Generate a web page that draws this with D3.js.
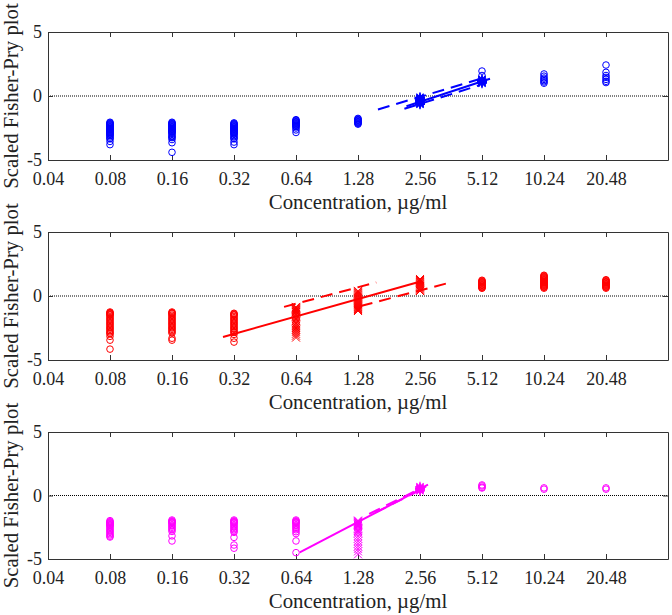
<!DOCTYPE html>
<html><head><meta charset="utf-8">
<script src="https://cdn.jsdelivr.net/npm/d3@7"></script>
<style>body{margin:0;background:#fff}svg{display:block}svg text{font-family:'Liberation Serif','Times New Roman',serif}</style>
</head><body>
<svg id="chart" width="672" height="615"></svg>
<script>
// ---------- data ----------
const concentrations = [0.04,0.08,0.16,0.32,0.64,1.28,2.56,5.12,10.24,20.48];
const tickLabels = ["0.04","0.08","0.16","0.32","0.64","1.28","2.56","5.12","10.24","20.48"];
const yTicks = [-5,0,5];

// Panel 1 (blue)
const blueCircles = [
  [0.08,[-2.05,-2.1,-2.15,-2.2,-2.25,-2.3,-2.35,-2.4,-2.45,-2.5,-2.55,-2.6,-2.65,-2.7,-2.75,-2.8,-2.85,-2.9,-2.95,-3.0,-3.05,-3.1,-3.2,-3.3,-3.35,-3.55,-3.8]],
  [0.16,[-2.05,-2.1,-2.15,-2.2,-2.25,-2.3,-2.35,-2.4,-2.45,-2.5,-2.55,-2.6,-2.65,-2.7,-2.75,-2.8,-2.85,-2.9,-3.0,-3.1,-3.2,-3.25,-3.4,-3.65,-4.4]],
  [0.32,[-2.1,-2.15,-2.2,-2.25,-2.3,-2.35,-2.4,-2.45,-2.5,-2.55,-2.6,-2.65,-2.7,-2.75,-2.8,-2.85,-2.9,-2.95,-3.0,-3.1,-3.2,-3.3,-3.35,-3.6,-3.8]],
  [0.64,[-1.85,-1.9,-1.95,-2.0,-2.05,-2.1,-2.15,-2.2,-2.25,-2.3,-2.35,-2.4,-2.5,-2.65,-2.85]],
  [1.28,[-1.75,-1.8,-1.85,-1.9,-1.95,-2.0,-2.05,-2.1,-2.15,-2.2]],
  [5.12,[1.95,1.6]],
  [10.24,[1.72,1.55,1.4,1.3,1.2,1.1,1.0]],
  [20.48,[2.42,1.85,1.6,1.45,1.3,1.15,1.05]]
];
const blueStars = [
  [2.56,[-0.1,-0.15,-0.2,-0.25,-0.3,-0.35,-0.4,-0.45,-0.5,-0.55,-0.6,-0.65]],
  [5.12,[1.3,1.25,1.2,1.15,1.1,1.05,1.0]]
];
const blueCrosses = [];
const blueLines = [
  {c1:1.6, v1:-1.05, c2:5.3, v2:1.45, dash:true},
  {c1:2.2, v1:-0.8,  c2:5.6, v2:1.35, dash:false},
  {c1:2.15,v1:-1.0,  c2:5.0, v2:0.85, dash:true}
];

// Panel 2 (red)
const redCircles = [
  [0.08,[-1.25,-1.3,-1.35,-1.4,-1.45,-1.5,-1.6,-1.7,-1.8,-1.9,-2.0,-2.1,-2.2,-2.3,-2.4,-2.5,-2.6,-2.7,-2.8,-2.9,-2.95,-3.15,-3.45,-4.15]],
  [0.16,[-1.25,-1.3,-1.35,-1.4,-1.5,-1.6,-1.7,-1.8,-1.9,-2.0,-2.1,-2.2,-2.3,-2.4,-2.5,-2.6,-2.7,-2.8,-2.9,-3.3,-3.45]],
  [0.32,[-1.35,-1.4,-1.45,-1.5,-1.6,-1.7,-1.8,-1.9,-2.0,-2.1,-2.2,-2.3,-2.4,-2.5,-2.6,-2.7,-2.8,-2.85,-3.0,-3.3,-3.6]],
  [5.12,[1.23,1.18,1.13,1.08,1.03,0.98,0.93,0.88,0.83,0.78,0.73,0.68,0.63,0.61]],
  [10.24,[1.62,1.57,1.52,1.47,1.42,1.37,1.32,1.27,1.22,1.17,1.12,1.07,1.02,0.97,0.92,0.87,0.82,0.77,0.72,0.67,0.61]],
  [20.48,[1.27,1.22,1.17,1.12,1.07,1.02,0.97,0.92,0.87,0.82,0.77,0.72,0.67,0.61]]
];
const redStars = [];
const redCrosses = [
  [0.64,[-0.85,-0.9,-0.95,-1.0,-1.05,-1.1,-1.15,-1.2,-1.25,-1.3,-1.4,-1.5,-1.6,-1.7,-1.8,-1.9,-2.0,-2.1,-2.2,-2.35,-2.5,-2.65,-2.8,-2.95,-3.1,-3.25]],
  [1.28,[0.4,0.33,0.25,0.18,0.1,0.03,-0.05,-0.12,-0.2,-0.27,-0.35,-0.42,-0.5,-0.57,-0.65,-0.72,-0.8,-0.87,-0.95,-1.02,-1.1,-1.17]],
  [2.56,[1.33,1.25,1.18,1.1,1.03,0.95,0.88,0.8,0.73,0.65,0.58,0.5,0.43,0.39]]
];
const redLines = [
  {c1:0.283,v1:-3.2, c2:2.6, v2:1.15, dash:false},
  {c1:0.56, v1:-0.85,c2:1.57,v2:1.06, dash:true},
  {c1:1.32, v1:-0.78,c2:3.68,v2:1.1,  dash:true}
];

// Panel 3 (magenta)
const magCircles = [
  [0.08,[-1.98,-2.05,-2.1,-2.15,-2.2,-2.25,-2.3,-2.35,-2.4,-2.5,-2.6,-2.7,-2.8,-2.9,-3.0,-3.1,-3.2,-3.27]],
  [0.16,[-1.93,-2.0,-2.05,-2.1,-2.15,-2.2,-2.3,-2.4,-2.5,-2.6,-2.7,-2.83,-3.18,-3.58]],
  [0.32,[-1.93,-2.0,-2.05,-2.1,-2.15,-2.2,-2.3,-2.4,-2.5,-2.6,-2.7,-2.8,-2.9,-3.3,-3.9,-4.15]],
  [0.64,[-1.93,-2.0,-2.05,-2.1,-2.15,-2.2,-2.3,-2.4,-2.5,-2.6,-2.7,-2.85,-3.0,-3.58,-4.5]],
  [5.12,[0.83,0.75,0.65,0.59]],
  [10.24,[0.6,0.5]],
  [20.48,[0.6,0.5]]
];
const magStars = [
  [2.56,[0.69,0.6,0.55,0.5,0.45,0.37]]
];
const magCrosses = [
  [1.28,[-1.97,-2.02,-2.07,-2.12,-2.17,-2.22,-2.27,-2.32,-2.4,-2.5,-2.6,-2.7,-2.8,-2.9,-3.0,-3.2,-3.4,-3.6,-3.8,-4.0,-4.2,-4.4,-4.63]]
];
const magLines = [
  {c1:0.667,v1:-4.47,c2:2.74,v2:0.71, dash:false},
  {c1:1.45, v1:-1.45,c2:2.8, v2:0.85, dash:true},
  {c1:1.55, v1:-1.35,c2:2.7, v2:0.6,  dash:true}
];

// ---------- layout ----------
const panels = [
  {top:32,  h:128, color:"#0000ff", circles:blueCircles, stars:blueStars, crosses:blueCrosses, lines:blueLines},
  {top:232, h:128, color:"#ff0000", circles:redCircles,  stars:redStars,  crosses:redCrosses,  lines:redLines},
  {top:432, h:127, color:"#ff00ff", circles:magCircles,  stars:magStars,  crosses:magCrosses,  lines:magLines}
];
const L = 48, R = 668;
const font = "'Liberation Serif','Times New Roman',serif";
const svg = d3.select("#chart");
const x = d3.scaleLog().base(2).domain([0.04, 40.96]).range([L, R]);

const crossPath = s => `M${-s},${-s}L${s},${s}M${-s},${s}L${s},${-s}`;
const starPath = s => { const k = s*0.72; return `M${-s},0H${s}M0,${-s}V${s}M${-k},${-k}L${k},${k}M${-k},${k}L${k},${-k}`; };

panels.forEach(p => {
  const y = d3.scaleLinear().domain([-5,5]).range([p.top + p.h, p.top]);
  const g = svg.append("g");

  // zero dotted line
  g.append("line").attr("x1", L).attr("x2", R).attr("y1", y(0)).attr("y2", y(0))
    .attr("stroke", "#000").attr("stroke-width", 1).attr("stroke-dasharray", "1,1");

  // axes (bottom + top + left + right)
  const bottom = g.append("g").attr("transform", `translate(0,${p.top + p.h})`)
    .call(d3.axisBottom(x).tickValues(concentrations).tickFormat((d,i) => tickLabels[i]).tickSizeInner(-5).tickSizeOuter(0).tickPadding(12));
  const top = g.append("g").attr("transform", `translate(0,${p.top})`)
    .call(d3.axisTop(x).tickValues(concentrations).tickFormat("").tickSizeInner(-5).tickSizeOuter(0));
  const left = g.append("g").attr("transform", `translate(${L},0)`)
    .call(d3.axisLeft(y).tickValues(yTicks).tickFormat(d3.format("d")).tickSizeInner(-5).tickSizeOuter(0).tickPadding(6));
  const right = g.append("g").attr("transform", `translate(${R},0)`)
    .call(d3.axisRight(y).tickValues(yTicks).tickFormat("").tickSizeInner(-5).tickSizeOuter(0));
  [bottom, top, left, right].forEach(a => {
    a.attr("font-family", font).attr("font-size", 18);
    a.selectAll("path.domain").attr("stroke", "#333").attr("stroke-width", 1);
    a.selectAll(".tick line").attr("stroke", "#333");
    a.selectAll("text").attr("font-family", font).attr("font-size", 18).attr("fill", "#222");
  });
  left.selectAll("text").text(d => d < 0 ? "-" + Math.abs(d) : d);

  // axis labels
  g.append("text").attr("x", (L + R) / 2).attr("y", p.top + p.h + 49)
    .attr("text-anchor", "middle").attr("font-family", font).attr("font-size", 20.8).attr("fill", "#222")
    .text("Concentration, µg/ml");
  g.append("text").attr("transform", `translate(17.5,${p.top + p.h / 2}) rotate(-90)`)
    .attr("text-anchor", "middle").attr("font-family", font).attr("font-size", 20.8).attr("fill", "#222")
    .text("Scaled Fisher-Pry plot");

  // fit lines
  p.lines.forEach(l => {
    g.append("line").attr("x1", x(l.c1)).attr("y1", y(l.v1)).attr("x2", x(l.c2)).attr("y2", y(l.v2))
      .attr("stroke", p.color).attr("stroke-width", 2)
      .attr("stroke-dasharray", l.dash ? "12,7" : null);
  });

  // circles
  p.circles.forEach(([c, vals]) => {
    g.selectAll(null).data(vals).enter().append("circle")
      .attr("cx", x(c)).attr("cy", d => y(d)).attr("r", 3.3)
      .attr("fill", "none").attr("stroke", p.color).attr("stroke-width", 1);
  });
  // crosses
  p.crosses.forEach(([c, vals]) => {
    g.selectAll(null).data(vals).enter().append("path")
      .attr("transform", d => `translate(${x(c)},${y(d)})`).attr("d", crossPath(4))
      .attr("fill", "none").attr("stroke", p.color).attr("stroke-width", 1);
  });
  // stars
  p.stars.forEach(([c, vals]) => {
    g.selectAll(null).data(vals).enter().append("path")
      .attr("transform", d => `translate(${x(c)},${y(d)})`).attr("d", starPath(5))
      .attr("fill", "none").attr("stroke", p.color).attr("stroke-width", 1.2);
  });
});
</script>
</body></html>
